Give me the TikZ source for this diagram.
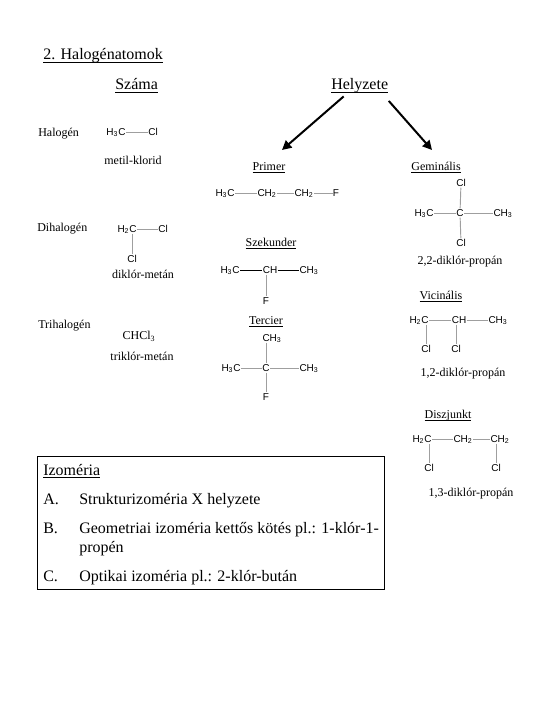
\documentclass[tikz,border=0pt]{standalone}
\usepackage{fontspec}
\setmainfont{Liberation Serif}
\setsansfont{Liberation Sans}
\usetikzlibrary{arrows.meta,positioning,calc}

\tikzset{
  atom/.style={font=\sffamily\fontsize{7.5}{9}\selectfont,inner sep=0.3pt,outer sep=0pt,text height=5.5pt,text depth=0.8pt},
  bond/.style={gray!75,line width=0.7pt},
  lbl/.style={font=\fontsize{9}{11}\selectfont,inner sep=0pt,text height=8pt,text depth=1pt},
  body/.style={font=\fontsize{12}{14}\selectfont,inner sep=0pt,anchor=base west},
  pfeil/.style={line width=1.5pt,-{Triangle[length=7pt,width=7pt]}},
}
\def\HHHC{H\textsubscript{3}C}
\def\HHC{H\textsubscript{2}C}
\def\CHH{CH\textsubscript{2}}
\def\CHHH{CH\textsubscript{3}}
\def\alah#1{\underline{\smash{#1}}}

\begin{document}
\begin{tikzpicture}[x=0.75pt,y=-0.75pt]
  \useasboundingbox (0,0) rectangle (540,720);
  % headings
  \node[body] (cim) at (43,60) {\alah{2. Halogénatomok}};
  \node[body] (szama) at (115,90) {\alah{Száma}};
  \node[body] (helyzete) at (331,90) {\alah{Helyzete}};
  \coordinate (primerveg) at (282,150);
  \coordinate (geminveg) at (432,150);
  \draw[pfeil,shorten <=4pt] ([xshift=-9pt]helyzete.south) -- (primerveg);
  \draw[pfeil,shorten <=8pt] ([xshift=-5pt]helyzete.south east) -- (geminveg);

  % szama, left column
  \node[lbl,anchor=west] (halogen) at (38,132) {Halogén};
  \node[atom] (a1) at (116,132) {\HHHC};
  \node[atom] (a2) at (153,132) {Cl};
  \draw[bond] (a1) -- (a2);
  \node[lbl] (metil) at (133,160) {metil-klorid};

  \node[lbl,anchor=west] (dihalogen) at (37,227) {Dihalogén};
  \node[atom] (b1) at (127,229) {\HHC};
  \node[atom] (b2) at (163,229) {Cl};
  \node[atom] (b3) at (132,259) {Cl};
  \draw[bond] (b1) -- (b2);
  \draw[bond] (b1.south -| b3) -- (b3);
  \node[lbl] (diklor) at (143,274) {diklór-metán};

  \node[lbl,anchor=west] (trihalogen) at (38,324) {Trihalogén};
  \node[lbl] (chcl) at (139,335) {CHCl\textsubscript{3}};
  \node[lbl] (triklor) at (142,356) {triklór-metán};

  % primer
  \node[lbl] (primer) at (269,166) {\alah{Primer}};
  \node[atom] (p1) at (225,193) {\HHHC};
  \node[atom] (p2) at (267,193) {\CHH};
  \node[atom] (p3) at (304,193) {\CHH};
  \node[atom] (p4) at (336,193) {F};
  \draw[bond] (p1) -- (p2);
  \draw[bond] (p2) -- (p3);
  \draw[bond] (p3) -- (p4);

  % szekunder
  \node[lbl] (szekunder) at (271,242) {\alah{Szekunder}};
  \node[atom] (s1) at (230,270) {\HHHC};
  \node[atom] (s2) at (270,270) {CH};
  \node[atom] (s3) at (309,270) {\CHHH};
  \node[atom] (s4) at (266,301) {F};
  \draw[bond,black] (s1) -- (s2);
  \draw[bond,black] (s2) -- (s3);
  \draw[bond] (s2.south -| s4) -- (s4);

  % tercier
  \node[lbl] (tercier) at (266,320) {\alah{Tercier}};
  \node[atom] (t1) at (272,338) {\CHHH};
  \node[atom] (t2) at (231,368) {\HHHC};
  \node[atom] (t3) at (266,368) {C};
  \node[atom] (t4) at (309,368) {\CHHH};
  \node[atom] (t5) at (266,397) {F};
  \draw[bond] (t2) -- (t3);
  \draw[bond] (t3) -- (t4);
  \draw[bond] (t1.south -| t3) -- (t3);
  \draw[bond] (t3) -- (t5);

  % geminalis
  \node[lbl] (geminalis) at (436,166) {\alah{Geminális}};
  \node[atom] (g1) at (461,183) {Cl};
  \node[atom] (g2) at (424,213) {\HHHC};
  \node[atom] (g3) at (460,213) {C};
  \node[atom] (g4) at (503,213) {\CHHH};
  \node[atom] (g5) at (461,243) {Cl};
  \draw[bond] (g2) -- (g3);
  \draw[bond] (g3) -- (g4);
  \draw[bond] (g1) -- (g3);
  \draw[bond] (g3) -- (g5);
  \node[lbl] (nev22) at (460,260) {2,2-diklór-propán};

  % vicinalis
  \node[lbl] (vicinalis) at (441,295) {\alah{Vicinális}};
  \node[atom] (v1) at (419,320) {\HHC};
  \node[atom] (v2) at (459,320) {CH};
  \node[atom] (v3) at (498,320) {\CHHH};
  \node[atom] (v4) at (426,349) {Cl};
  \node[atom] (v5) at (456,349) {Cl};
  \draw[bond] (v1) -- (v2);
  \draw[bond] (v2) -- (v3);
  \draw[bond] (v1.south -| v4) -- (v4);
  \draw[bond] (v2.south -| v5) -- (v5);
  \node[lbl] (nev12) at (463,372) {1,2-diklór-propán};

  % diszjunkt
  \node[lbl] (diszjunkt) at (448,414) {\alah{Diszjunkt}};
  \node[atom] (d1) at (422,439) {\HHC};
  \node[atom] (d2) at (463,439) {\CHH};
  \node[atom] (d3) at (500,439) {\CHH};
  \node[atom] (d4) at (429,468) {Cl};
  \node[atom] (d5) at (496,468) {Cl};
  \draw[bond] (d1) -- (d2);
  \draw[bond] (d2) -- (d3);
  \draw[bond] (d1.south -| d4) -- (d4);
  \draw[bond] (d3.south -| d5) -- (d5);
  \node[lbl] (nev13) at (471,492) {1,3-diklór-propán};

  % izomeria box
  \node[draw,line width=0.6pt,minimum width=260.25pt,minimum height=99.75pt,inner sep=0pt,anchor=north west] (doboz) at (37,456) {};
  \node[body] (izomeria) at (43,475) {\alah{Izoméria}};
  \node[body] (a) at (43,504) {A.};
  \node[body] (atext) at (79,504) {Strukturizoméria X helyzete};
  \node[body] (b) at (43,533) {B.};
  \node[body] (btext) at (79,533) {Geometriai izoméria kettős kötés pl.: 1-klór-1-};
  \node[body] (btext2) at (79,552) {propén};
  \node[body] (c) at (43,581) {C.};
  \node[body] (ctext) at (79,581) {Optikai izoméria pl.: 2-klór-bután};
\end{tikzpicture}
\end{document}
